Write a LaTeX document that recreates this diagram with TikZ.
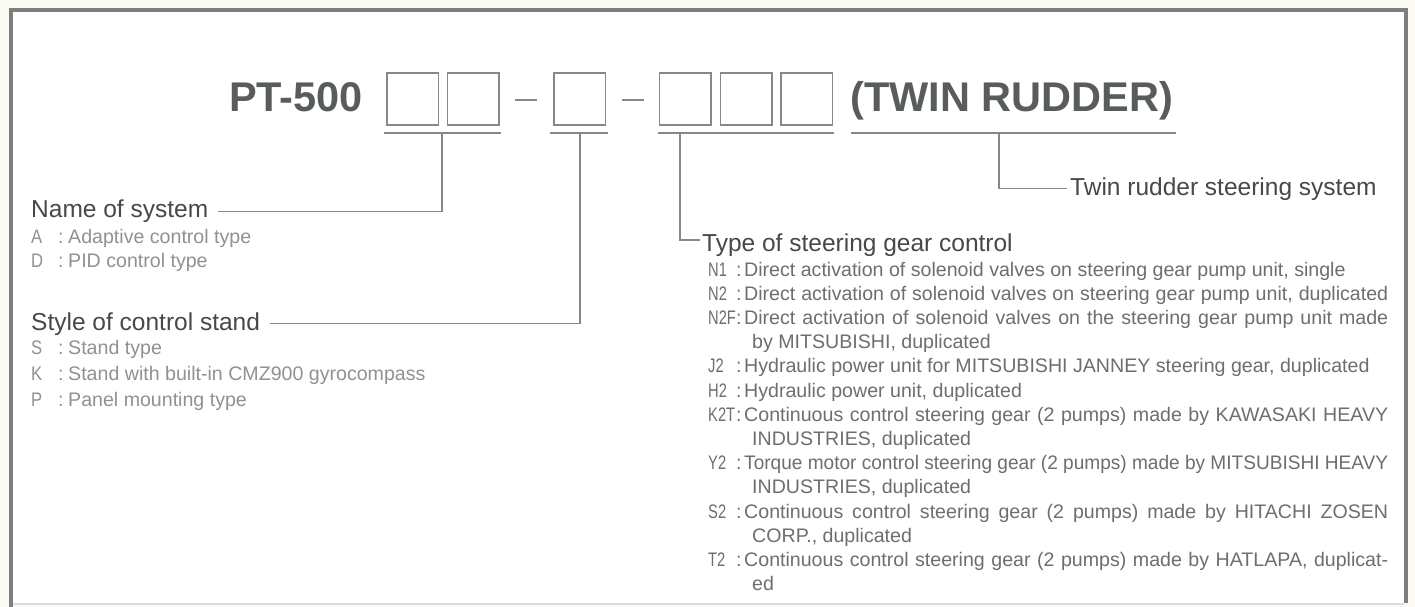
\documentclass[tikz,border=0pt]{standalone}
\usepackage{graphicx}
\usepackage{fontspec}
\setmainfont{Liberation Sans}
\definecolor{bgc}{RGB}{250,249,242}
\definecolor{framec}{RGB}{125,127,127}
\definecolor{framelt}{RGB}{215,220,225}
\definecolor{titlec}{RGB}{88,92,92}
\definecolor{linec}{RGB}{135,135,135}
\definecolor{headc}{RGB}{72,72,72}
\definecolor{itemc}{RGB}{110,110,110}
\definecolor{itemlc}{RGB}{145,145,145}
\newlength\fitw
\newcommand\fitline[2]{\settowidth\fitw{#2}\ifdim\fitw>#1\relax\resizebox{#1}{\height}{#2}\else\makebox[#1][s]{#2}\fi}
\newcommand\litem[2]{\makebox[27pt][l]{\scalebox{0.85}[1]{#1}}\makebox[10pt][l]{:}#2}
\newcommand\ritem[2]{\makebox[29pt][l]{\scalebox{0.75}[1]{#1}}\makebox[7pt][l]{\kern-1pt:}#2}
\begin{document}
\begin{tikzpicture}[x=1pt,y=-1pt,
  codebox/.style={draw=linec, line width=1.4pt, minimum width=51.5pt, minimum height=52pt, inner sep=0pt, outer sep=0pt, anchor=north west},
  titletext/.style={font=\fontsize{41.5}{44}\selectfont\bfseries, text=titlec, inner sep=0pt, anchor=base west},
  headtext/.style={font=\fontsize{24.5}{28}\selectfont, text=headc, inner sep=0pt, anchor=base west},
  ritemtext/.style={font=\fontsize{19.6}{22}\selectfont, text=itemc, inner sep=0pt, anchor=base west},
  litemtext/.style={font=\fontsize{19.6}{22}\selectfont, text=itemlc, inner sep=0pt, anchor=base west},
  conn/.style={draw=linec, line width=1.3pt},
  uline/.style={draw=linec, line width=1.4pt},
  dashline/.style={draw=linec, line width=2.4pt}]
\useasboundingbox (0,0) rectangle (1415,607);
% background and frame
\fill[bgc] (0,0) rectangle (1415,607);
\fill[white] (11,11) rectangle (1406,603);
\draw[framelt,line width=2pt] (13,603.5) -- (1404,603.5);
\draw[framec,line width=4pt] (11,607) -- (11,10.5) -- (1406,10.5) -- (1406,603);

% title line
\node[titletext] (pt) at (229,112) {PT-500};
\node[codebox] (b1) at (387,73) {};
\node[codebox] (b2) at (447.5,73) {};
\node[codebox] (b3) at (554,73) {};
\node[codebox] (b4) at (659.5,73) {};
\node[codebox] (b5) at (720.5,73) {};
\node[codebox] (b6) at (781,73) {};
\node[titletext] (tw) at (850,112) {(TWIN RUDDER)};
\draw[dashline] (515,100) -- (537,100);
\draw[dashline] (622,100) -- (644,100);

% underlines
\draw[uline] (384,133) -- (501,133);
\draw[uline] (550,133) -- (608,133);
\draw[uline] (658,133) -- (834,133);
\draw[uline] (851,133) -- (1176,133);
\coordinate (u1) at (442,133);
\coordinate (u2) at (580,133);
\coordinate (u3) at (680,133);
\coordinate (u4) at (999,133);

% headings
\node[headtext] (name) at (31,217) {Name of system};
\node[headtext] (style) at (31,330) {Style of control stand};
\node[headtext] (type) at (702,251) {Type of steering gear control};
\node[headtext] (twin) at (1070,195) {Twin rudder steering system};

% connectors
\draw[conn] (u1) |- ([xshift=10pt,yshift=-1pt]name.east);
\draw[conn] (u2) |- ([xshift=10pt]style.east);
\draw[conn] (u3) |- ([xshift=-2pt,yshift=4.8pt]type.west);
\draw[conn] (u4) |- ([xshift=-3pt]twin.west);

% left lists
\node[litemtext] (la) at (31,243.5) {\litem{A}{Adaptive control type}};
\node[litemtext] (ld) at (31,267.5) {\litem{D}{PID control type}};
\node[litemtext] (ls) at (31,354.5) {\litem{S}{Stand type}};
\node[litemtext] (lk) at (31,380.5) {\litem{K}{Stand with built-in CMZ900 gyrocompass}};
\node[litemtext] (lp) at (31,406.5) {\litem{P}{Panel mounting type}};

% right list
\node[ritemtext] (r0) at (708,276) {\ritem{N1}{Direct activation of solenoid valves on steering gear pump unit, single}};
\node[ritemtext] (r1) at (708,300.2) {\ritem{N2}{\fitline{644pt}{Direct activation of solenoid valves on steering gear pump unit, duplicated}}};
\node[ritemtext] (r2) at (708,324.4) {\ritem{N2F}{\fitline{644pt}{Direct activation of solenoid valves on the steering gear pump unit made}}};
\node[ritemtext] (r3) at (752,348.6) {by MITSUBISHI, duplicated};
\node[ritemtext] (r4) at (708,372.8) {\ritem{J2}{Hydraulic power unit for MITSUBISHI JANNEY steering gear, duplicated}};
\node[ritemtext] (r5) at (708,397) {\ritem{H2}{Hydraulic power unit, duplicated}};
\node[ritemtext] (r6) at (708,421.2) {\ritem{K2T}{\fitline{644pt}{Continuous control steering gear (2 pumps) made by KAWASAKI HEAVY}}};
\node[ritemtext] (r7) at (752,445.4) {INDUSTRIES, duplicated};
\node[ritemtext] (r8) at (708,469.6) {\ritem{Y2}{\fitline{644pt}{Torque motor control steering gear (2 pumps) made by MITSUBISHI HEAVY}}};
\node[ritemtext] (r9) at (752,493.8) {INDUSTRIES, duplicated};
\node[ritemtext] (r10) at (708,518) {\ritem{S2}{\fitline{644pt}{Continuous control steering gear (2 pumps) made by HITACHI ZOSEN}}};
\node[ritemtext] (r11) at (752,542.2) {CORP., duplicated};
\node[ritemtext] (r12) at (708,566.4) {\ritem{T2}{\fitline{644pt}{Continuous control steering gear (2 pumps) made by HATLAPA, duplicat-}}};
\node[ritemtext] (r13) at (752,590.6) {ed};
\end{tikzpicture}
\end{document}
